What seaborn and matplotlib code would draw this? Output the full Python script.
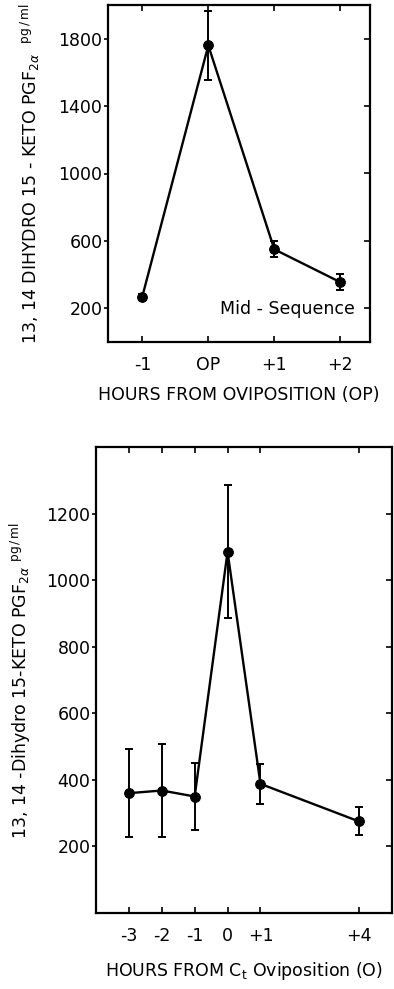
import matplotlib
matplotlib.use("Agg")
import matplotlib.pyplot as plt
import pandas as pd
import seaborn as sns

# Mid-sequence oviposition (upper panel)
mid_hours = [-1, 0, 1, 2]
mid_tick_labels = ["-1", "OP", "+1", "+2"]
mid_mean = [270, 1760, 550, 355]
mid_err = [15, 205, 48, 48]
mid_yticks = [200, 600, 1000, 1400, 1800]

# C_t oviposition (lower panel)
ct_hours = [-3, -2, -1, 0, 1, 4]
ct_tick_labels = ["-3", "-2", "-1", "0", "+1", "+4"]
ct_mean = [360, 368, 350, 1085, 388, 275]
ct_err = [132, 140, 100, 200, 60, 42]
ct_yticks = [200, 400, 600, 800, 1000, 1200]

sns.set_theme(style="white")
plt.rcParams["font.family"] = ["DejaVu Sans"]
plt.rcParams["mathtext.fontset"] = "dejavusans"
for key in ("text.color", "axes.labelcolor", "xtick.color", "ytick.color",
            "axes.edgecolor"):
    plt.rcParams[key] = "black"

FS = 12.5

fig = plt.figure(figsize=(3.94, 9.89), dpi=100)
ax1 = fig.add_axes([108 / 394, 1 - 342 / 989, 262 / 394, 337 / 989])
ax2 = fig.add_axes([96 / 394, 1 - 913 / 989, 296 / 394, 466 / 989])


def draw_panel(ax, hours, mean, err, xticks, xlabels, yticks, xlim, ylim):
    df = pd.DataFrame({"hour": hours, "value": mean})
    sns.lineplot(data=df, x="hour", y="value", ax=ax, color="black",
                 linewidth=1.7, marker="o", markersize=7,
                 markeredgecolor="black", markerfacecolor="black")
    ax.errorbar(hours, mean, yerr=err, fmt="none", ecolor="black",
                elinewidth=1.4, capsize=3, capthick=1.4)
    ax.set_xlim(*xlim)
    ax.set_ylim(*ylim)
    ax.set_xticks(xticks)
    ax.set_xticklabels(xlabels, fontsize=FS)
    ax.set_yticks(yticks)
    ax.set_yticklabels([str(v) for v in yticks], fontsize=FS)
    for s in ax.spines.values():
        s.set_visible(True)
        s.set_color("black")
        s.set_linewidth(1.6)
    ax.tick_params(axis="x", which="major", direction="in", length=4, width=1.2,
                   top=True, bottom=True, pad=10)
    ax.tick_params(axis="y", which="major", direction="out", length=3, width=1.2,
                   left=True, right=False, pad=1)
    # inward ticks along the right edge
    rt = ax.twinx()
    rt.set_ylim(*ylim)
    rt.set_yticks(yticks)
    rt.tick_params(axis="y", direction="in", length=4, width=1.2,
                   right=True, labelright=False)
    rt.grid(False)
    ax.grid(False)


draw_panel(ax1, mid_hours, mid_mean, mid_err, mid_hours, mid_tick_labels,
           mid_yticks, (-1.52, 2.45), (0, 2000))
ax1.set_xlabel("HOURS FROM OVIPOSITION (OP)", fontsize=FS, labelpad=9)
ax1.set_ylabel(r"13, 14 DIHYDRO 15 - KETO PGF$_{2\alpha}$  $^{\rm pg\,/\,ml}$",
               fontsize=FS, labelpad=12)
ax1.text(0.943, 0.098, "Mid - Sequence", transform=ax1.transAxes,
         ha="right", va="center", fontsize=FS)

draw_panel(ax2, ct_hours, ct_mean, ct_err, ct_hours, ct_tick_labels,
           ct_yticks, (-4, 5), (0, 1400))
ax2.set_xlabel(r"HOURS FROM C$_{\rm t}$ Oviposition (O)", fontsize=FS, labelpad=11)
ax2.set_ylabel(r"13, 14 -Dihydro 15-KETO PGF$_{2\alpha}$ $^{\rm pg\,/\,ml}$",
               fontsize=FS, labelpad=10)

fig.savefig("out.png", dpi=100)
